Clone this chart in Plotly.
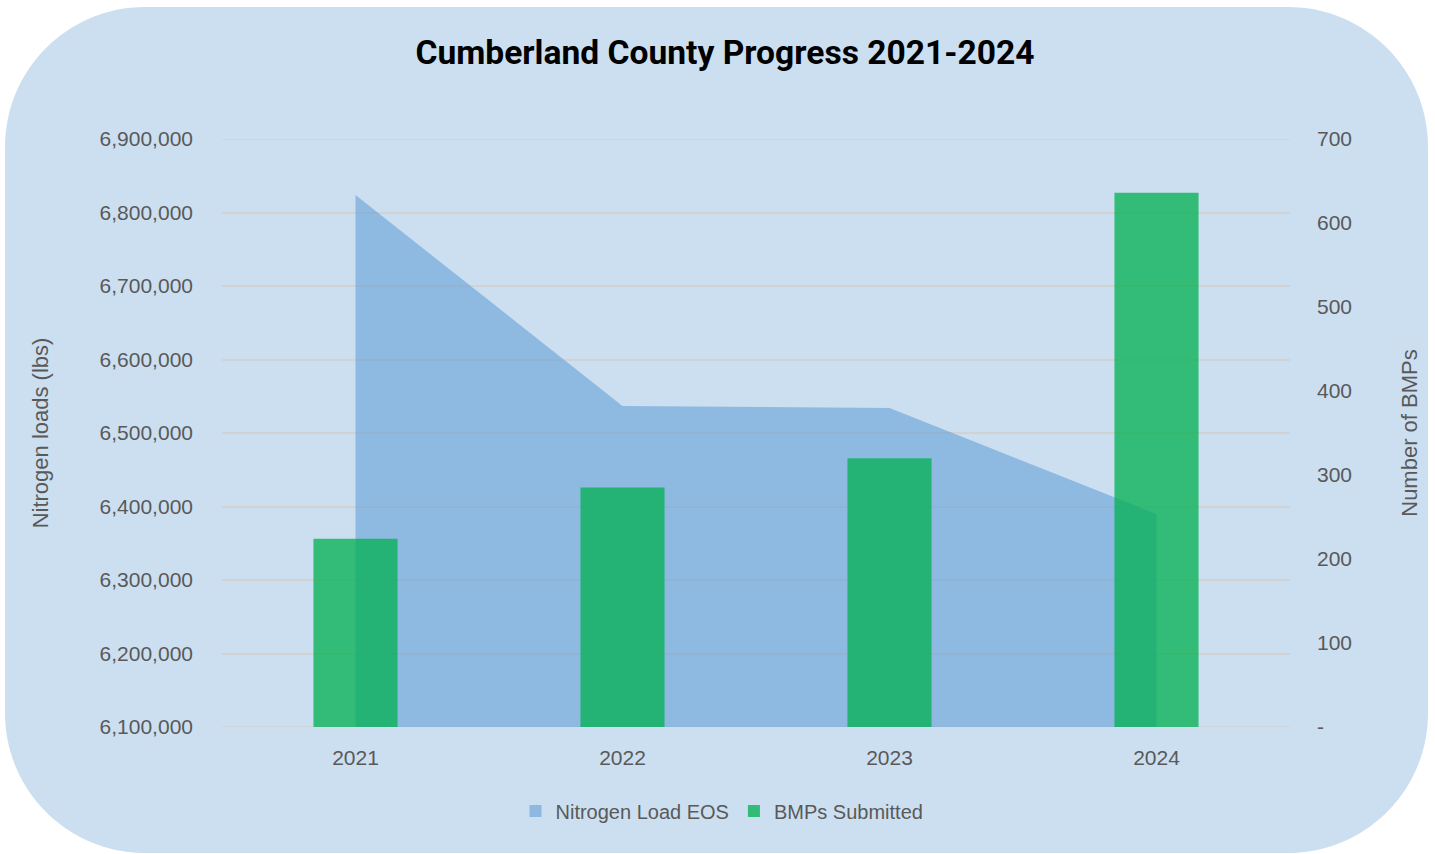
import plotly.graph_objects as go

# ---- data ----
years = ["2021", "2022", "2023", "2024"]
nitrogen_load_eos = [6823800, 6536700, 6534000, 6389800]
bmps_submitted = [224, 285, 320, 636]

left_tick_vals = [6100000, 6200000, 6300000, 6400000, 6500000, 6600000, 6700000, 6800000, 6900000]
right_tick_vals = [0, 100, 200, 300, 400, 500, 600, 700]
right_tick_text = ["-", "100", "200", "300", "400", "500", "600", "700"]

# ---- layout geometry (pixels) ----
W, H = 1435, 854
L, R, T, B = 222, 1290, 139, 727
PW, PH = R - L, B - T
GRID = "#D2D2D2"


def px(x):
    return (x - L) / PW


def py(y):
    return (B - y) / PH


def rounded_rect_path(x0, y0, x1, y1, r):
    k = 0.5523 * r
    pts = []
    pts.append(("M", [(x0 + r, y0)]))
    pts.append(("L", [(x1 - r, y0)]))
    pts.append(("C", [(x1 - r + k, y0), (x1, y0 + r - k), (x1, y0 + r)]))
    pts.append(("L", [(x1, y1 - r)]))
    pts.append(("C", [(x1, y1 - r + k), (x1 - r + k, y1), (x1 - r, y1)]))
    pts.append(("L", [(x0 + r, y1)]))
    pts.append(("C", [(x0 + r - k, y1), (x0, y1 - r + k), (x0, y1 - r)]))
    pts.append(("L", [(x0, y0 + r)]))
    pts.append(("C", [(x0, y0 + r - k), (x0 + r - k, y0), (x0 + r, y0)]))
    s = ""
    for cmd, ps in pts:
        s += cmd + " ".join(f"{px(a):.5f},{py(b):.5f}" for a, b in ps) + " "
    return s + "Z"


tick_font = dict(family="Liberation Sans, Arial, sans-serif", size=21, color="#595959")
x_idx = list(range(len(years)))

fig = go.Figure()

fig.add_trace(go.Scatter(
    x=x_idx, y=nitrogen_load_eos, name="Nitrogen Load EOS",
    mode="none", fill="tozeroy", fillcolor="rgba(91,155,213,0.55)",
    showlegend=False, hoverinfo="x+y",
))
# legend proxy for the area series
fig.add_trace(go.Bar(
    x=[None], y=[None], name="Nitrogen Load EOS",
    marker=dict(color="#8DB8E2", line=dict(width=0)), yaxis="y2",
))
fig.add_trace(go.Bar(
    x=x_idx, y=bmps_submitted, name="BMPs Submitted", yaxis="y2",
    width=0.315, marker=dict(color="rgba(0,176,80,0.75)", line=dict(width=0)),
))

shapes = [dict(
    type="path", xref="paper", yref="paper", layer="below",
    path=rounded_rect_path(5, 7, 1428, 853, 140),
    fillcolor="#CCDFF0", line=dict(width=0),
)]
# edge gridlines (top and bottom of the left axis range)
for v in (left_tick_vals[0], left_tick_vals[-1]):
    shapes.append(dict(type="line", xref="paper", yref="y", x0=0, x1=1, y0=v, y1=v,
                       layer="below", line=dict(color=GRID, width=1.5)))

fig.update_layout(
    width=W, height=H,
    margin=dict(l=L, r=W - R, t=T, b=H - B, autoexpand=False),
    paper_bgcolor="white",
    plot_bgcolor="rgba(0,0,0,0)",
    title=dict(
        text="<b>Cumberland County Progress 2021-2024</b>",
        font=dict(family="Roboto, Liberation Sans, sans-serif", size=33.6, color="black"),
        x=725 / W, xanchor="center", xref="container",
        y=1 - 52 / H, yanchor="middle", yref="container",
    ),
    xaxis=dict(
        range=[-0.5, 3.5], tickvals=x_idx, ticktext=years,
        showgrid=False, zeroline=False, showline=False,
        tickfont=tick_font, ticks="", ticklabelstandoff=16,
    ),
    yaxis=dict(
        range=[left_tick_vals[0], left_tick_vals[-1]], tickvals=left_tick_vals, tickformat=",",
        showgrid=True, gridcolor=GRID, gridwidth=1.5, zeroline=False, showline=False,
        tickfont=tick_font, ticks="", ticklabelstandoff=28,
        title=dict(text="Nitrogen loads (lbs)", standoff=44,
                   font=dict(family="Liberation Sans, Arial, sans-serif", size=22, color="#595959")),
    ),
    yaxis2=dict(
        range=[0, 700], tickvals=right_tick_vals, ticktext=right_tick_text,
        overlaying="y", side="right", showgrid=False, zeroline=False, showline=False,
        tickfont=tick_font, ticks="", ticklabelstandoff=26,
        title=dict(text="Number of BMPs", standoff=50,
                   font=dict(family="Liberation Sans, Arial, sans-serif", size=22, color="#595959")),
    ),
    barmode="overlay",
    legend=dict(
        orientation="h", x=px(722), xanchor="center", y=py(811), yanchor="middle",
        font=dict(family="Liberation Sans, Arial, sans-serif", size=20, color="#595959"),
        bgcolor="rgba(0,0,0,0)", traceorder="normal", itemwidth=30,
    ),
    shapes=shapes,
    showlegend=True,
)

fig.write_html("out.html", config={"displayModeBar": False},
               post_script="document.body.style.margin='0';")
